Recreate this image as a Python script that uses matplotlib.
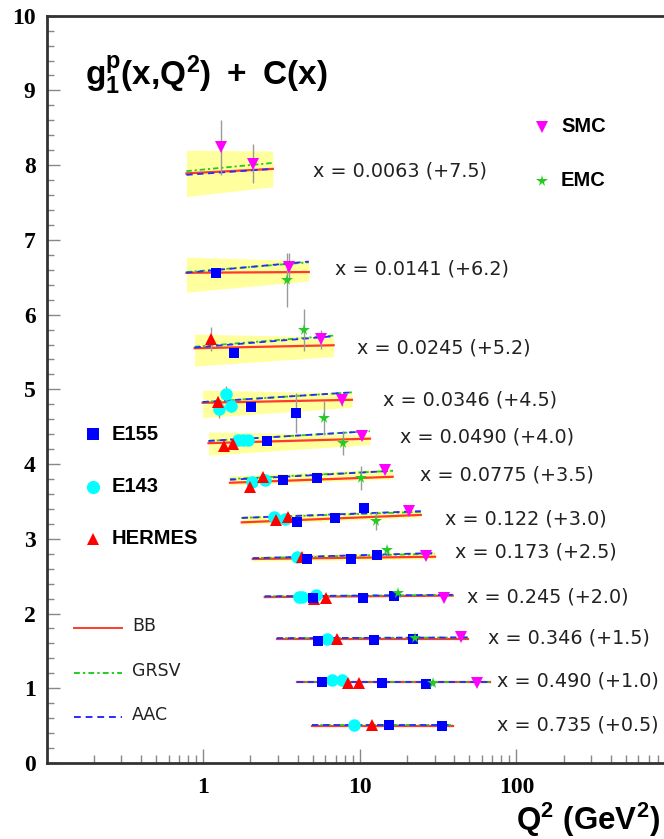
import numpy as np
import matplotlib
matplotlib.use("Agg")
import matplotlib.pyplot as plt
from matplotlib.ticker import FixedLocator, FuncFormatter, MultipleLocator, LogLocator, NullFormatter

# ---------------- data ----------------
bin_x      = ["0.0063", "0.0141", "0.0245", "0.0346", "0.0490", "0.0775",
              "0.122", "0.173", "0.245", "0.346", "0.490", "0.735"]
bin_offset = ["+7.5", "+6.2", "+5.2", "+4.5", "+4.0", "+3.5",
              "+3.0", "+2.5", "+2.0", "+1.5", "+1.0", "+0.5"]
q2_lo = [0.78, 0.78, 0.88, 0.99, 1.08, 1.48, 1.76, 2.07, 2.47, 2.95, 3.96, 4.93]
q2_hi = [2.78, 4.72, 6.8, 8.9, 11.6, 16.2, 24.5, 30.2, 39.2, 49.0, 67.7, 39.2]
bb_lo   = [7.89, 6.56, 5.55, 4.82, 4.28, 3.75, 3.22, 2.73, 2.22, 1.66, 1.08, 0.50]
bb_hi   = [7.95, 6.57, 5.59, 4.86, 4.34, 3.83, 3.32, 2.76, 2.24, 1.66, 1.08, 0.50]
grsv_lo = [7.92, 6.57, 5.57, 4.83, 4.31, 3.80, 3.28, 2.74, 2.23, 1.67, 1.09, 0.51]
grsv_hi = [8.03, 6.70, 5.72, 4.96, 4.44, 3.91, 3.36, 2.80, 2.25, 1.68, 1.09, 0.51]
aac_lo  = [7.87, 6.56, 5.56, 4.83, 4.31, 3.79, 3.28, 2.74, 2.23, 1.67, 1.09, 0.51]
aac_hi  = [7.95, 6.71, 5.71, 4.96, 4.44, 3.91, 3.37, 2.81, 2.25, 1.68, 1.09, 0.51]
band_top_lo = [8.20, 6.77, 5.74, 4.99, 4.43, 3.84, 3.31, 2.77]
band_top_hi = [8.19, 6.72, 5.70, 4.95, 4.39, 3.94, 3.39, 2.83]
band_bot_lo = [7.58, 6.30, 5.31, 4.62, 4.12, 3.72, 3.19, 2.70]
band_bot_hi = [7.71, 6.45, 5.44, 4.76, 4.26, 3.80, 3.29, 2.73]

e155_q2  = [1.20, 1.57, 2.01, 3.90, 2.55, 3.22, 5.31, 3.96, 6.92, 10.6, 4.59, 8.78, 12.8,
            5.0, 10.4, 16.5, 5.4, 12.3, 21.8, 5.72, 13.8, 26.4, 15.3, 33.4]
e155_y   = [6.56, 5.49, 4.76, 4.68, 4.31, 3.79, 3.81, 3.22, 3.28, 3.41, 2.73, 2.73, 2.78,
            2.21, 2.21, 2.23, 1.63, 1.65, 1.66, 1.08, 1.07, 1.06, 0.51, 0.50]
e155_err = [0.05, 0.05, 0.05, 0.27, 0.05, 0.04, 0.04, 0.04, 0.04, 0.04, 0.03, 0.03, 0.03,
            0.03, 0.03, 0.03, 0.03, 0.03, 0.03, 0.03, 0.03, 0.03, 0.03, 0.03]

e143_q2  = [1.39, 1.26, 1.50, 1.66, 1.79, 1.93, 2.04, 2.47, 2.82, 3.32, 3.96,
            4.08, 4.3, 5.25, 6.15, 6.62, 7.66, 9.14]
e143_y   = [4.94, 4.74, 4.78, 4.32, 4.32, 4.32, 3.76, 3.79, 3.29, 3.27, 2.76,
            2.22, 2.22, 2.25, 1.66, 1.11, 1.11, 0.51]
e143_err = [0.10, 0.13, 0.08, 0.05, 0.05, 0.05, 0.04, 0.04, 0.04, 0.04, 0.03,
            0.03, 0.03, 0.03, 0.03, 0.03, 0.03, 0.03]

hermes_q2  = [1.12, 1.24, 1.35, 1.54, 1.98, 2.40, 2.90, 3.47, 4.27, 5.08, 6.07, 7.13, 8.4, 9.85, 11.9]
hermes_y   = [5.67, 4.83, 4.24, 4.27, 3.69, 3.83, 3.25, 3.29, 2.76, 2.19, 2.21, 1.66, 1.07, 1.07, 0.51]
hermes_err = [0.16, 0.08, 0.06, 0.05, 0.05, 0.05, 0.04, 0.04, 0.03, 0.03, 0.03, 0.03, 0.03, 0.03, 0.03]

smc_q2  = [1.29, 2.07, 3.52, 5.63, 7.66, 10.3, 14.4, 20.5, 26.6, 34.4, 44.3, 55.9]
smc_y   = [8.24, 8.02, 6.64, 5.67, 4.86, 4.38, 3.92, 3.37, 2.77, 2.21, 1.69, 1.07]
smc_err = [0.37, 0.26, 0.19, 0.13, 0.08, 0.06, 0.05, 0.04, 0.03, 0.03, 0.03, 0.03]

emc_q2  = [3.42, 4.39, 5.89, 7.77, 10.2, 12.6, 14.8, 17.5, 22.5, 29.3]
emc_y   = [6.46, 5.79, 4.62, 4.28, 3.81, 3.24, 2.85, 2.27, 1.67, 1.07]
emc_err = [0.36, 0.28, 0.23, 0.16, 0.16, 0.12, 0.06, 0.05, 0.04, 0.04]

# ---------------- figure ----------------
W, H = 664, 839
plt.rcParams["mathtext.fontset"] = "custom"
plt.rcParams["mathtext.rm"] = "Liberation Sans:bold"
plt.rcParams["mathtext.it"] = "Liberation Sans:bold"
plt.rcParams["mathtext.bf"] = "Liberation Sans:bold"

fig = plt.figure(figsize=(W / 100, H / 100), dpi=100)
ax_left, ax_right, ax_top, ax_bot = 46.7, 673.0, 15.7, 763.0
ax = fig.add_axes([ax_left / W, 1 - ax_bot / H, (ax_right - ax_left) / W, (ax_bot - ax_top) / H])
ax.set_xscale("log")
ax.set_xlim(0.1, 1000)
ax.set_ylim(0, 10)

def fx(px):
    return px / W

def fy(py):
    return 1 - py / H

RED = "#ff3a2a"
GREEN = "#22cc22"
BLUE = "#2a2aff"
YELLOW = "#ffff9e"
ERR = "#9a9a9a"
GRSV_LS = (0, (3, 1.6, 1.2, 1.6))
AAC_LS = (0, (3.5, 2.5))

# bands
for i in range(len(band_top_lo)):
    ax.fill_between([q2_lo[i], q2_hi[i]], [band_bot_lo[i], band_bot_hi[i]],
                    [band_top_lo[i], band_top_hi[i]], color=YELLOW, lw=0, zorder=1)

# curves
for i in range(len(bin_x)):
    xs = [q2_lo[i], q2_hi[i]]
    ax.plot(xs, [bb_lo[i], bb_hi[i]], color=RED, lw=1.6, zorder=2)
    ax.plot(xs, [grsv_lo[i], grsv_hi[i]], color=GREEN, lw=1.3, linestyle=GRSV_LS, zorder=3)
    ax.plot(xs, [aac_lo[i], aac_hi[i]], color=BLUE, lw=1.3, linestyle=AAC_LS, zorder=3)

# data points
def draw(q2, y, err, marker, color, ms):
    ax.errorbar(q2, y, yerr=err, fmt="none", ecolor=ERR, elinewidth=1.0, capsize=0, zorder=4)
    ax.plot(q2, y, linestyle="none", marker=marker, color=color, ms=ms,
            markeredgewidth=0, zorder=5)

draw(e143_q2, e143_y, e143_err, "o", "#00ffff", 9)
draw(hermes_q2, hermes_y, hermes_err, "^", "#ff0000", 8.5)
draw(e155_q2, e155_y, e155_err, "s", "#0000ff", 7.5)
draw(emc_q2, emc_y, emc_err, "*", "#22cc22", 8.5)
draw(smc_q2, smc_y, smc_err, "v", "#ff00ff", 8.5)

# axes styling
for s in ["left", "bottom", "top"]:
    ax.spines[s].set_color("#333333")
    ax.spines[s].set_linewidth(2)
ax.spines["right"].set_visible(False)
ax.yaxis.set_major_locator(MultipleLocator(1))
ax.yaxis.set_minor_locator(MultipleLocator(0.2))
ax.xaxis.set_major_locator(FixedLocator([1, 10, 100, 1000]))
ax.xaxis.set_minor_locator(LogLocator(base=10, subs=np.arange(2, 10), numticks=20))
ax.xaxis.set_minor_formatter(NullFormatter())
ax.xaxis.set_major_formatter(FuncFormatter(lambda v, p: "%d" % v if v < 1000 else ""))
ax.yaxis.set_major_formatter(FuncFormatter(lambda v, p: "%d" % v))
ax.tick_params(which="both", direction="in", color="#888888", top=False, right=False)
ax.tick_params(axis="y", which="major", length=9.5, width=1, pad=8)
ax.tick_params(axis="y", which="minor", length=5, width=1)
ax.tick_params(axis="x", which="major", length=10, width=1, pad=10)
ax.tick_params(axis="x", which="minor", length=5.5, width=1)
for lab in ax.get_xticklabels() + ax.get_yticklabels():
    lab.set_fontfamily("Liberation Serif")
    lab.set_fontweight("bold")
    lab.set_fontsize(17)

# bin labels
label_px = [313, 335, 357, 383, 400, 420, 445, 455, 467, 488, 497, 497]
label_py = [171, 269, 348, 400, 437, 475, 519, 552, 597, 638, 681, 725]
for i in range(len(bin_x)):
    fig.text(fx(label_px[i]), fy(label_py[i]), "x = %s (%s)" % (bin_x[i], bin_offset[i]),
             fontfamily="DejaVu Sans", fontsize=13.8, color="#222222",
             ha="left", va="center")

# title
fig.text(fx(85), fy(75), r"$\mathrm{g_1^p(x{,}Q^2)\ +\ C(x)}$", fontsize=24,
         ha="left", va="center", color="black")

# axis label
fig.text(fx(516), fy(820), r"$\mathrm{Q^2\ (GeV^2)}$", fontsize=22.5,
         ha="left", va="center", color="black")

# experiment legend
leg_items = [("E155", "s", "#0000ff", 8, 93, 434),
             ("E143", "o", "#00ffff", 9.5, 93, 487),
             ("HERMES", "^", "#ff0000", 9, 93, 539),
             ("SMC", "v", "#ff00ff", 8.5, 542, 127),
             ("EMC", "*", "#22cc22", 8.5, 542, 181)]
for name, m, c, ms, px, py in leg_items:
    fig.lines.append(matplotlib.lines.Line2D([fx(px)], [fy(py)], marker=m, color=c, ms=ms,
                                             markeredgewidth=0, transform=fig.transFigure))
    fig.text(fx(px + 19), fy(py), name, fontfamily="Liberation Sans", fontweight="bold",
             fontsize=14.5, ha="left", va="center", color="black")

# model legend
model_items = [("BB", RED, "-", 628), ("GRSV", GREEN, GRSV_LS, 673), ("AAC", BLUE, AAC_LS, 717)]
for name, c, ls, py in model_items:
    fig.lines.append(matplotlib.lines.Line2D([fx(74), fx(122)], [fy(py), fy(py)], color=c,
                                             lw=1.4, linestyle=ls, transform=fig.transFigure))
    fig.text(fx(132), fy(py - 2), name, fontfamily="DejaVu Sans", fontsize=12.5,
             ha="left", va="center", color="#222222")

fig.savefig("out.png", dpi=100)
